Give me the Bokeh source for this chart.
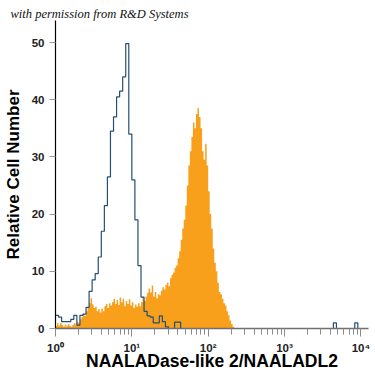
import numpy as np
from bokeh.plotting import figure
from bokeh.models import FixedTicker, Range1d, Title
from bokeh.embed import file_html
from bokeh.resources import INLINE

# ---- data ----
# isotype control histogram (blue outline), bins of 0.04 decade starting at 10^0
blue_bin_decades = 0.04
blue_counts = [
    2.3, 2.0, 1.2, 1.2, 1.2, 1.6, 2.3, 0.6, 2.3, 2.5,
    3.7, 6.5, 8.5, 9.6, 12.5, 17.0, 21.5, 26.5, 34.5, 37.0,
    40.5, 41.5, 44.0, 49.8, 34.0, 26.0, 19.0, 11.0, 5.5, 3.0,
    2.2, 2.0, 1.0, 1.0, 2.2, 1.2, 0.3, 0.0, 0.0, 1.1,
    1.1, 0.0, 0.0, 0.0, 0.0, 0.0, 0.0, 0.0, 0.0, 0.0,
    0.0, 0.0, 0.0, 0.0, 0.0, 0.0, 0.0, 0.0, 0.0, 0.0,
    0.0, 0.0, 0.0, 0.0, 0.0, 0.0, 0.0, 0.0, 0.0, 0.0,
    0.0, 0.0, 0.0, 0.0, 0.0, 0.0, 0.0, 0.0, 0.0, 0.0,
    0.0, 0.0, 0.0, 0.0, 0.0, 0.0, 0.0, 0.0, 0.0, 0.0,
    0.0, 1.0, 0.0, 0.0, 0.0, 0.0, 0.0, 0.0, 1.0, 0.0,
    0.0, 0.0,
]

# NAALADL2 stained histogram (orange fill), bins of 0.02 decade starting at 10^0
orange_bin_decades = 0.02
orange_counts = [
    0.4, 0.9, 0.5, 1.0, 0.6, 0.3, 0.7, 0.4, 0.8, 0.5,
    0.3, 0.6, 0.9, 0.7, 1.2, 0.9, 1.6, 2.0, 2.6, 2.2,
    3.0, 3.6, 4.4, 5.3, 4.2, 3.6, 3.8, 3.0, 3.4, 2.8,
    3.5, 3.0, 3.9, 4.3, 3.6, 4.4, 4.0, 4.6, 5.2, 4.3,
    5.0, 4.1, 5.4, 4.6, 5.2, 3.9, 4.8, 4.3, 5.1, 4.0,
    4.6, 3.6, 4.2, 3.8, 4.4, 3.9, 4.6, 5.4, 4.8, 5.6,
    6.2, 7.0, 6.3, 7.5, 5.6, 6.4, 5.3, 6.0, 5.8, 6.6,
    7.2, 6.8, 7.6, 8.0, 7.4, 8.8, 9.4, 9.8, 10.6, 11.0,
    12.3, 13.5, 15.5, 17.5, 19.0, 21.5, 25.0, 28.5, 31.0, 33.5,
    36.0, 35.0, 37.5, 38.5, 37.0, 35.0, 31.0, 29.5, 32.3, 28.5,
    24.0, 20.0, 17.5, 14.0, 11.5, 10.0, 8.0, 6.4, 6.0, 5.2,
    4.4, 4.0, 3.0, 2.3, 1.4, 0.8, 0.3, 0.0,
]

x_major_ticks = [1, 10, 100, 1000, 10000]
x_tick_labels = {1: "10\u2070", 10: "10\u00b9", 100: "10\u00b2", 1000: "10\u00b3", 10000: "10\u2074"}
y_ticks = [0, 10, 20, 30, 40, 50]

x_label = "NAALADase-like 2/NAALADL2"
y_label = "Relative Cell Number"
credit = "with permission from R&D Systems"

ORANGE = "#F8A01C"
BLUE = "#244f75"


def step_xy(counts, width):
    edges = 10 ** (np.arange(len(counts) + 1) * width)
    xs, ys = [], []
    for k, c in enumerate(counts):
        xs += [edges[k], edges[k + 1]]
        ys += [c, c]
    return xs, ys


p = figure(width=375, height=375, x_axis_type="log",
           x_range=Range1d(1, 10 ** 4.1), y_range=Range1d(0, 53.85),
           output_backend="svg", toolbar_location=None,
           min_border_left=55, min_border_right=7, min_border_top=20, min_border_bottom=47)
p.outline_line_color = None
p.grid.visible = False
p.background_fill_color = "white"
p.border_fill_color = "white"

ox, oy = step_xy(orange_counts, orange_bin_decades)
p.varea(x=ox, y1=[0] * len(oy), y2=oy, fill_color=ORANGE, fill_alpha=1.0)

bx, by = step_xy(blue_counts, blue_bin_decades)
p.line(bx, by, line_color=BLUE, line_width=1.2)

# x axis
minor = [m * d for d in [1, 10, 100, 1000] for m in range(2, 10)]
p.xaxis.ticker = FixedTicker(ticks=x_major_ticks, minor_ticks=minor)
p.xaxis.major_label_overrides = x_tick_labels
p.xaxis.axis_line_color = "#6f6f6f"
p.xaxis.axis_line_width = 1.5
p.xaxis.major_tick_line_color = "#8a8a8a"
p.xaxis.minor_tick_line_color = "#8a8a8a"
p.xaxis.major_tick_out = 8
p.xaxis.major_tick_in = 0
p.xaxis.minor_tick_out = 6
p.xaxis.minor_tick_in = 0
p.xaxis.major_label_text_font = "Liberation Sans"
p.xaxis.major_label_text_font_style = "bold"
p.xaxis.major_label_text_font_size = "11.5px"
p.xaxis.major_label_text_color = "#222222"
p.xaxis.major_label_standoff = 5
p.xaxis.axis_label = x_label
p.xaxis.axis_label_text_font = "Liberation Sans"
p.xaxis.axis_label_text_font_style = "bold"
p.xaxis.axis_label_text_font_size = "17.5px"
p.xaxis.axis_label_text_color = "black"
p.xaxis.axis_label_standoff = -6

# y axis
p.yaxis.ticker = FixedTicker(ticks=y_ticks, minor_ticks=[])
p.yaxis.axis_line_color = "black"
p.yaxis.axis_line_width = 1.2
p.yaxis.major_tick_line_color = "#999999"
p.yaxis.major_tick_out = 6
p.yaxis.major_tick_in = 0
p.yaxis.minor_tick_line_color = None
p.yaxis.major_label_text_font = "Liberation Sans"
p.yaxis.major_label_text_font_style = "bold"
p.yaxis.major_label_text_font_size = "11.5px"
p.yaxis.major_label_text_color = "#222222"
p.yaxis.major_label_standoff = 5
p.yaxis.axis_label = y_label
p.yaxis.axis_label_text_font = "Liberation Sans"
p.yaxis.axis_label_text_font_style = "bold"
p.yaxis.axis_label_text_font_size = "17px"
p.yaxis.axis_label_text_color = "black"
p.yaxis.axis_label_standoff = 6

t = Title(text=credit, align="left", offset=-45, standoff=0,
          text_font="Liberation Serif", text_font_style="italic",
          text_font_size="12.5px", text_color="#111111")
p.add_layout(t, "above")

open("out.html", "w").write(file_html(p, INLINE))
